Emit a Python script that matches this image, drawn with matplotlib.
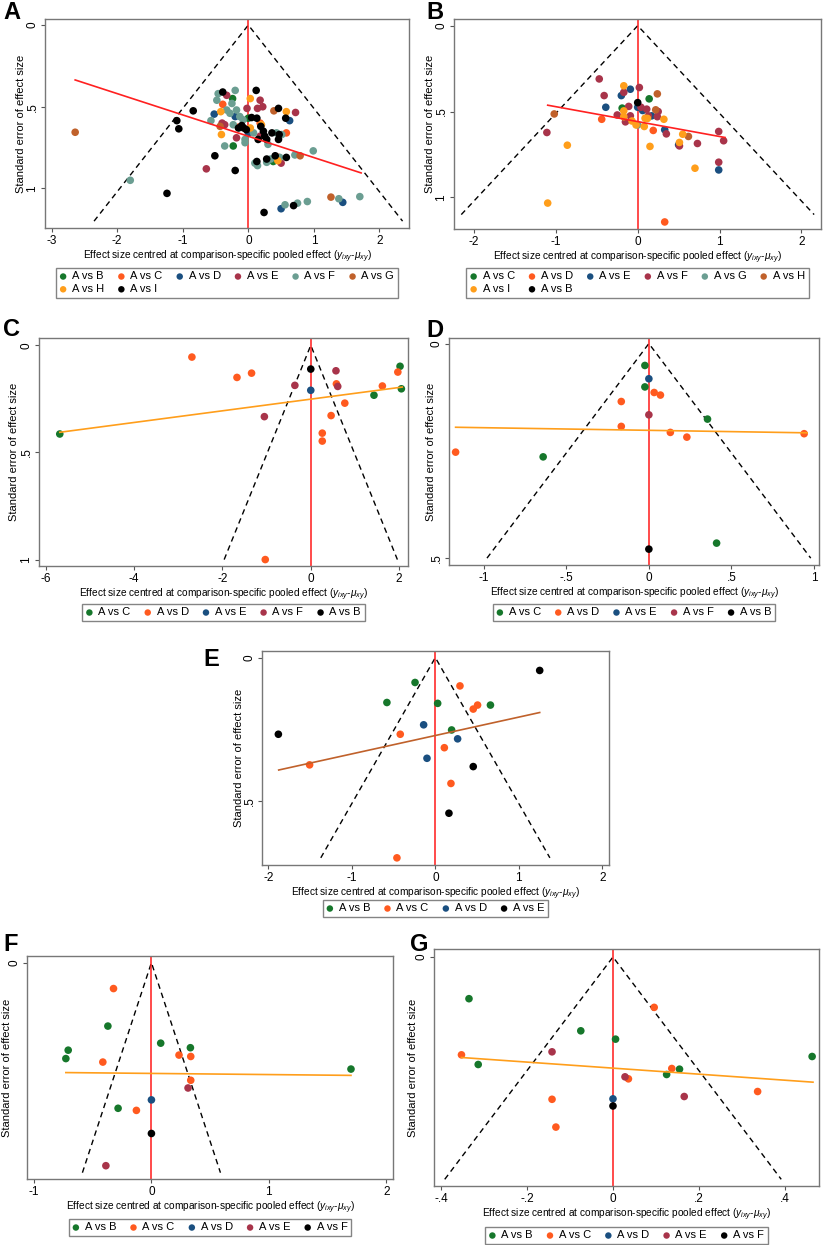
import numpy as np
import matplotlib
matplotlib.use('Agg')
import matplotlib.pyplot as plt

plt.rcParams['font.family'] = ['Liberation Sans', 'DejaVu Sans']
plt.rcParams['mathtext.fontset'] = 'custom'
plt.rcParams['mathtext.it'] = 'Liberation Sans:italic'

# %% colours (Stata-like palette)
GREEN = '#16772b'
ORANGERED = '#ff5a1f'
NAVY = '#1a4f80'
DARKRED = '#a8344a'
TEAL = '#6b9e92'
BROWN = '#c0612b'
AMBER = '#ff9e1b'
BLACK = '#000000'

# %% panel A data (x = centred effect, y = standard error)
pa_b = [(-0.24, 0.45), (0.00, 0.57), (-0.23, 0.74), (0.38, 0.835)]
pa_c = [(-0.39, 0.485), (0.58, 0.66), (-0.15, 0.625), (0.46, 0.81), (0.18, 0.60)]
pa_d = [(-0.52, 0.545), (-0.20, 0.56), (0.0, 0.66), (0.63, 0.585), (0.50, 1.124), (1.44, 1.085)]
pa_e = [(-0.33, 0.43), (0.18, 0.46), (0.14, 0.51), (0.22, 0.50), (-0.02, 0.51), (0.72, 0.535),
        (-0.40, 0.60), (-0.36, 0.61), (-0.18, 0.69), (-0.64, 0.88), (0.50, 0.845), (0.18, 0.68)]
pa_f = [(-1.80, 0.95), (-0.46, 0.42), (-0.20, 0.40), (-0.48, 0.46), (-0.25, 0.48), (-0.33, 0.52),
        (-0.28, 0.54), (-0.57, 0.585), (-0.18, 0.52), (-0.13, 0.56), (-0.08, 0.58), (-0.36, 0.74),
        (-0.05, 0.70), (0.08, 0.66), (0.30, 0.73), (0.43, 0.66), (0.51, 0.67), (0.99, 0.77),
        (0.71, 0.795), (0.10, 0.845), (0.14, 0.86), (0.28, 0.84), (0.34, 0.82), (0.48, 0.81),
        (0.56, 1.10), (0.75, 1.09), (0.90, 1.08), (1.38, 1.063), (1.70, 1.05), (-0.05, 0.72),
        (-0.23, 0.61)]
pa_g = [(-2.64, 0.656), (0.39, 0.525), (0.79, 0.80), (1.26, 1.053), (-0.43, 0.62)]
pa_h = [(0.03, 0.45), (-0.42, 0.53), (-0.41, 0.67), (0.58, 0.53), (0.03, 0.63), (0.45, 0.83), (0.20, 0.61)]
pa_i = [(-1.24, 1.03), (-1.09, 0.585), (-1.06, 0.635), (-0.84, 0.525), (-0.39, 0.41), (-0.51, 0.80),
        (-0.20, 0.89), (0.12, 0.40), (0.46, 0.51), (0.57, 0.57), (0.58, 0.81), (0.13, 0.835),
        (0.28, 0.82), (0.41, 0.80), (0.69, 1.105), (0.24, 1.147), (0.05, 0.566), (0.13, 0.57),
        (-0.10, 0.615), (-0.07, 0.63), (-0.03, 0.64), (0.19, 0.62), (0.23, 0.65), (0.25, 0.68),
        (0.28, 0.70), (0.15, 0.70), (0.36, 0.66), (0.47, 0.67), (0.46, 0.70), (-0.15, 0.63)]
pa_fit = ([-2.64, 1.72], [0.336, 0.905])

# %% panel B data
pb_c = [(0.14, 0.426), (-0.19, 0.48)]
pb_d = [(-0.44, 0.545), (0.19, 0.61), (0.33, 1.143)]
pb_e = [(-0.09, 0.37), (-0.20, 0.407), (-0.39, 0.475), (0.0, 0.475), (0.06, 0.494), (0.17, 0.525),
        (0.33, 0.606), (0.50, 0.694), (0.99, 0.84)]
pb_f = [(-0.47, 0.31), (-0.41, 0.407), (-0.17, 0.388), (0.02, 0.36), (-0.11, 0.47), (0.04, 0.475),
        (0.11, 0.486), (0.25, 0.50), (0.24, 0.53), (-0.25, 0.52), (-0.09, 0.525), (-0.15, 0.56),
        (0.13, 0.525), (-1.11, 0.622), (0.35, 0.63), (0.51, 0.70), (0.73, 0.686), (0.99, 0.616),
        (1.05, 0.67), (0.99, 0.795)]
pb_g = [(0.0, 0.578)]
pb_h = [(-1.02, 0.514), (0.24, 0.397), (0.22, 0.49), (0.62, 0.645)]
pb_i = [(-0.17, 0.35), (-0.17, 0.496), (-0.17, 0.53), (-0.86, 0.696), (-1.10, 1.033), (-0.02, 0.578),
        (0.08, 0.587), (0.09, 0.539), (0.12, 0.54), (0.32, 0.545), (0.55, 0.632), (0.15, 0.703),
        (0.51, 0.68), (0.70, 0.83), (-0.07, 0.555)]
pb_b = [(0.0, 0.448)]
pb_fit = ([-1.10, 1.067], [0.463, 0.651])

# %% panel C data
pc_c = [(-5.68, 0.414), (2.02, 0.098), (2.05, 0.203), (1.43, 0.233)]
pc_d = [(-2.69, 0.055), (-1.67, 0.15), (-1.34, 0.13), (1.97, 0.125), (1.62, 0.19), (0.58, 0.18),
        (0.77, 0.27), (0.46, 0.328), (0.26, 0.41), (0.26, 0.447), (-1.03, 1.0)]
pc_e = [(0.0, 0.21)]
pc_f = [(-0.36, 0.187), (-1.05, 0.333), (0.57, 0.119), (0.61, 0.192)]
pc_b = [(0.0, 0.111)]
pc_fit = ([-5.68, 2.07], [0.406, 0.195])

# %% panel D data
pd_c = [(-0.024, 0.051), (-0.024, 0.101), (0.355, 0.176), (-0.64, 0.264), (0.41, 0.465)]
pd_d = [(-1.17, 0.253), (-0.167, 0.135), (-0.167, 0.193), (0.032, 0.114), (0.07, 0.12),
        (0.13, 0.207), (0.23, 0.218), (0.94, 0.21)]
pd_e = [(0.0, 0.082)]
pd_f = [(0.0, 0.166)]
pd_b = [(0.0, 0.479)]
pd_fit = ([-1.17, 0.958], [0.195, 0.208])

# %% panel E data
pe_b = [(-0.243, 0.087), (-0.58, 0.157), (0.028, 0.16), (0.66, 0.166), (0.195, 0.253)]
pe_c = [(0.295, 0.099), (0.454, 0.18), (0.506, 0.166), (-0.42, 0.268), (-1.506, 0.375),
        (0.108, 0.315), (0.187, 0.44), (-0.46, 0.70)]
pe_d = [(-0.14, 0.235), (0.267, 0.284), (-0.10, 0.352)]
pe_e = [(1.25, 0.045), (-1.88, 0.268), (0.454, 0.381), (0.163, 0.544)]
pe_fit = ([-1.876, 1.25], [0.393, 0.192])

# %% panel F data
pf_b = [(-0.371, 0.0906), (-0.709, 0.125), (-0.729, 0.137), (0.079, 0.115), (0.332, 0.1215),
        (-0.284, 0.208), (1.70, 0.152)]
pf_c = [(-0.323, 0.037), (-0.414, 0.142), (0.235, 0.132), (0.335, 0.134), (0.335, 0.168), (-0.128, 0.211)]
pf_d = [(0.0, 0.196)]
pf_e = [(0.312, 0.179), (-0.388, 0.29)]
pf_f = [(0.0, 0.244)]
pf_fit = ([-0.729, 1.70], [0.157, 0.161])

# %% panel G data
pg_b = [(-0.3355, 0.0375), (-0.314, 0.0967), (-0.075, 0.0664), (0.006, 0.0739), (0.125, 0.1057),
        (0.155, 0.1009), (0.464, 0.0895)]
pg_c = [(-0.353, 0.088), (0.096, 0.0453), (0.137, 0.1003), (0.036, 0.1096), (-0.142, 0.128),
        (-0.133, 0.153), (0.337, 0.121)]
pg_d = [(0.0, 0.1276)]
pg_e = [(-0.142, 0.0853), (0.028, 0.1078), (0.166, 0.1255)]
pg_f = [(0.0, 0.134)]
pg_fit = ([-0.353, 0.466], [0.0904, 0.1126])

W, H = 823, 1245
fig = plt.figure(figsize=(W / 100, H / 100), dpi=100)

XLABEL = 'Effect size centred at comparison-specific pooled effect ($y_{ixy}$-$\\mu_{xy}$)'


def px_axes(l, t, r, b):
    return fig.add_axes([l / W, 1 - b / H, (r - l) / W, (b - t) / H])


def panel(letter, box, lim, xt, xtl, yt, ytl, funnel, series, order, fit, fitcol,
          leg_top, ncol, letter_xy, ylab_off):
    ax = px_axes(*box)
    ax.set_xlim(lim[0], lim[1])
    ax.set_ylim(lim[3], lim[2])
    # funnel
    ax.plot([-1.96 * funnel, 0, 1.96 * funnel], [funnel, 0, funnel], color='black',
            lw=1.0, ls=(0, (4, 3)), zorder=1)
    ax.axvline(0, color='#ff1a1a', lw=1.1, zorder=2)
    handles = []
    for lab, pts, col in series:
        xs = [p[0] for p in pts]
        ys = [p[1] for p in pts]
        h = ax.scatter(xs, ys, s=30, color=col, edgecolors='none', label=lab, zorder=3)
        handles.append(h)
    ax.plot(fit[0], fit[1], color=fitcol, lw=1.2, zorder=4)
    ax.set_xticks(xt)
    ax.set_xticklabels(xtl)
    ax.set_yticks(yt)
    ax.set_yticklabels(ytl, rotation=90, va='center', ha='center')
    ax.tick_params(direction='out', length=3, width=0.8, color='#555555', labelsize=8.5, pad=2)
    ax.tick_params(axis='y', pad=6)
    for s in ax.spines.values():
        s.set_color('#777777')
        s.set_linewidth(1.0)
    ax.set_xlabel(XLABEL, fontsize=7.3, labelpad=1)
    ax.set_ylabel('Standard error of effect size', fontsize=8)
    ax.yaxis.set_label_coords(-(ylab_off - 5) / (box[2] - box[0]), 0.5)
    hs = [handles[i] for i in order]
    cx = (box[0] + box[2]) / 2
    leg = ax.legend(hs, [h.get_label() for h in hs], loc='upper center',
                    bbox_to_anchor=(cx / W, 1 - leg_top / H), bbox_transform=fig.transFigure,
                    ncol=ncol, frameon=True, fancybox=False, fontsize=8, handlelength=0.6,
                    handletextpad=0.5, columnspacing=1.25, borderpad=0.35, labelspacing=0.25,
                    markerscale=0.85)
    leg.get_frame().set_edgecolor('#666666')
    leg.get_frame().set_linewidth(1.0)
    fig.text(letter_xy[0] / W, 1 - letter_xy[1] / H, letter, fontsize=17, fontweight='bold',
             va='top', ha='left')
    return ax


panel('A', (45, 19, 409, 228), (-3.10, 2.45, -0.037, 1.242),
      [-3, -2, -1, 0, 1, 2], ['-3', '-2', '-1', '0', '1', '2'], [0, 0.5, 1], ['0', '.5', '1'], 1.2,
      [('A vs B', pa_b, GREEN), ('A vs C', pa_c, ORANGERED), ('A vs D', pa_d, NAVY),
       ('A vs E', pa_e, DARKRED), ('A vs F', pa_f, TEAL), ('A vs G', pa_g, BROWN),
       ('A vs H', pa_h, AMBER), ('A vs I', pa_i, BLACK)],
      [0, 6, 1, 7, 2, 3, 4, 5], pa_fit, '#ff2020', 262, 6, (3, 1), 24)

panel('B', (454, 19, 821, 229), (-2.245, 2.24, -0.039, 1.184),
      [-2, -1, 0, 1, 2], ['-2', '-1', '0', '1', '2'], [0, 0.5, 1], ['0', '.5', '1'], 1.1,
      [('A vs C', pb_c, GREEN), ('A vs D', pb_d, ORANGERED), ('A vs E', pb_e, NAVY),
       ('A vs F', pb_f, DARKRED), ('A vs G', pb_g, TEAL), ('A vs H', pb_h, BROWN),
       ('A vs I', pb_i, AMBER), ('A vs B', pb_b, BLACK)],
      [0, 6, 1, 7, 2, 3, 4, 5], pb_fit, '#ff2020', 262, 6, (426, 1), 24)

panel('C', (39, 338, 408, 566), (-6.15, 2.2, -0.034, 1.03),
      [-6, -4, -2, 0, 2], ['-6', '-4', '-2', '0', '2'], [0, 0.5, 1], ['0', '.5', '1'], 1.0,
      [('A vs C', pc_c, GREEN), ('A vs D', pc_d, ORANGERED), ('A vs E', pc_e, NAVY),
       ('A vs F', pc_f, DARKRED), ('A vs B', pc_b, BLACK)],
      [0, 1, 2, 3, 4], pc_fit, AMBER, 598, 5, (3, 318), 25)

panel('D', (449, 338, 819, 565), (-1.21, 1.03, -0.013, 0.516),
      [-1, -0.5, 0, 0.5, 1], ['-1', '-.5', '0', '.5', '1'], [0, 0.5], ['0', '.5'], 0.5,
      [('A vs C', pd_c, GREEN), ('A vs D', pd_d, ORANGERED), ('A vs E', pd_e, NAVY),
       ('A vs F', pd_f, DARKRED), ('A vs B', pd_b, BLACK)],
      [0, 1, 2, 3, 4], pd_fit, AMBER, 598, 5, (426, 319), 18)

panel('E', (262, 651, 609, 865), (-2.076, 2.08, -0.023, 0.725),
      [-2, -1, 0, 1, 2], ['-2', '-1', '0', '1', '2'], [0, 0.5], ['0', '.5'], 0.7,
      [('A vs B', pe_b, GREEN), ('A vs C', pe_c, ORANGERED), ('A vs D', pe_d, NAVY),
       ('A vs E', pe_e, BLACK)],
      [0, 1, 2, 3], pe_fit, BROWN, 894, 4, (203, 648), 23)

panel('F', (27, 956, 393, 1179), (-1.06, 2.058, -0.0095, 0.309),
      [-1, 0, 1, 2], ['-1', '0', '1', '2'], [0], ['0'], 0.3,
      [('A vs B', pf_b, GREEN), ('A vs C', pf_c, ORANGERED), ('A vs D', pf_d, NAVY),
       ('A vs E', pf_e, DARKRED), ('A vs F', pf_f, BLACK)],
      [0, 1, 2, 3, 4], pf_fit, AMBER, 1213, 5, (3, 933), 20)

panel('G', (434, 949, 819, 1186), (-0.417, 0.48, -0.0072, 0.206),
      [-0.4, -0.2, 0, 0.2, 0.4], ['-.4', '-.2', '0', '.2', '.4'], [0], ['0'], 0.2,
      [('A vs B', pg_b, GREEN), ('A vs C', pg_c, ORANGERED), ('A vs D', pg_d, NAVY),
       ('A vs E', pg_e, DARKRED), ('A vs F', pg_f, BLACK)],
      [0, 1, 2, 3, 4], pg_fit, AMBER, 1221, 5, (410, 933), 21)

fig.savefig('out.png', dpi=100)
